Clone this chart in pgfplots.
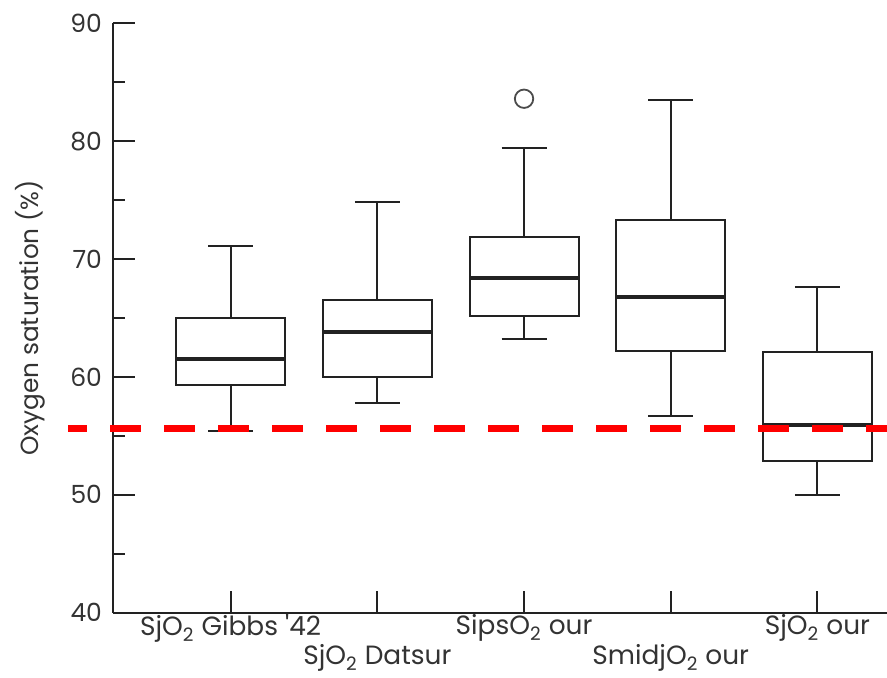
\documentclass[border=0pt]{standalone}
\usepackage{fontspec}
\setmainfont{Poppins}
\usepackage{pgfplots}
\usepgfplotslibrary{statistics}
\pgfplotsset{compat=1.18}

\definecolor{ink}{HTML}{222222}
\definecolor{txt}{HTML}{333333}

\begin{document}
\begin{tikzpicture}
\begin{axis}[
    name=ax,
    scale only axis,
    width=387pt, height=294.7pt,
    xmin=0.198, xmax=5.474,
    ymin=40, ymax=90,
    clip=false,
    axis lines=left,
    axis line style={-, ink, line width=1pt},
    tick align=inside,
    tick style={ink, line width=1pt},
    major tick length=11pt,
    minor tick length=6pt,
    ytick={40,50,60,70,80,90},
    minor y tick num=1,
    xtick={1,3,5},
    xticklabels={SjO\textsubscript{2} Gibbs \textquotesingle42, SipsO\textsubscript{2} our, SjO\textsubscript{2} our},
    extra x ticks={2,4},
    extra x tick labels={SjO\textsubscript{2} Datsur, SmidjO\textsubscript{2} our},
    extra x tick style={xticklabel style={yshift=-15pt}},
    /pgf/number format/assume math mode=true,
    every tick label/.append style={text=txt},
    yticklabel style={font=\fontsize{12.5}{14}\selectfont, xshift=-2pt},
    xticklabel style={font=\fontsize{13.2}{15}\selectfont, yshift=2.5pt},
    ylabel={Oxygen saturation (\%)},
    ylabel style={font=\fontsize{12.4}{14}\selectfont, text=txt,
        at={([xshift=-41.5pt]axis description cs:0,0.5)}, anchor=center},
    boxplot/draw direction=y,
    boxplot/every median/.style={line width=1.9pt},
]
% boxes: lower whisker, lower quartile, median, upper quartile, upper whisker
\addplot[ink, line width=1pt, boxplot prepared={draw position=1,
    lower whisker=55.4, lower quartile=59.3, median=61.5,
    upper quartile=65.0, upper whisker=71.1,
    box extend=0.743, whisker extend=0.307}] coordinates {};
\addplot[ink, line width=1pt, boxplot prepared={draw position=2,
    lower whisker=57.8, lower quartile=60.0, median=63.8,
    upper quartile=66.5, upper whisker=74.8,
    box extend=0.743, whisker extend=0.307}] coordinates {};
\addplot[ink, line width=1pt, mark=o, mark size=4.6pt,
    mark options={line width=0.9pt, draw=black!70},
    boxplot prepared={draw position=3,
    lower whisker=63.2, lower quartile=65.2, median=68.4,
    upper quartile=71.9, upper whisker=79.4,
    box extend=0.743, whisker extend=0.307}] coordinates {(0,83.6)};
\addplot[ink, line width=1pt, boxplot prepared={draw position=4,
    lower whisker=56.7, lower quartile=62.2, median=66.8,
    upper quartile=73.3, upper whisker=83.5,
    box extend=0.743, whisker extend=0.307}] coordinates {};
\addplot[ink, line width=1pt, boxplot prepared={draw position=5,
    lower whisker=50.0, lower quartile=52.9, median=55.9,
    upper quartile=62.1, upper whisker=67.6,
    box extend=0.743, whisker extend=0.307}] coordinates {};

% reference line
\addplot[red, line width=3.5pt, dash pattern=on 15.5pt off 11.5pt, dash phase=6pt]
    coordinates {(-0.108,55.6) (5.474,55.6)};
\end{axis}
\pgfresetboundingbox
\path[use as bounding box] ([xshift=-56.5pt,yshift=-32.2pt]ax.south west)
    rectangle ([yshift=11.65pt]ax.north east);
\end{tikzpicture}
\end{document}
